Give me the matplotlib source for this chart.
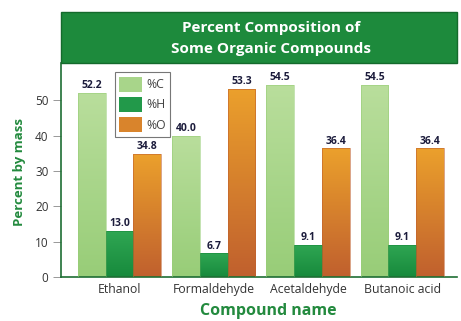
import matplotlib.pyplot as plt
import numpy as np
from matplotlib.colors import LinearSegmentedColormap
from matplotlib.patches import Rectangle, Patch

compounds = ["Ethanol", "Formaldehyde", "Acetaldehyde", "Butanoic acid"]
pct_c = [52.2, 40.0, 54.5, 54.5]
pct_h = [13.0, 6.7, 9.1, 9.1]
pct_o = [34.8, 53.3, 36.4, 36.4]
labels = ["%C", "%H", "%O"]

# (top colour, bottom colour) for each series
grads = [("#b9de9c", "#98cd78"), ("#2fa653", "#178a3c"), ("#eba02c", "#c0602e")]
solid = ["#a8d58a", "#22994a", "#d9842c"]

plt.rcParams["font.family"] = ["Open Sans", "DejaVu Sans"]

fig = plt.figure(figsize=(4.61, 3.21), dpi=100)
W, H = 461, 321
ax_l, ax_r, ax_t, ax_b = 61, 457, 63, 277
ax = fig.add_axes([ax_l / W, 1 - ax_b / H, (ax_r - ax_l) / W, (ax_b - ax_t) / H])

width = 0.295
x = np.arange(len(compounds))
series = [pct_c, pct_h, pct_o]

for k, vals in enumerate(series):
    offs = (k - 1) * width
    bars = ax.bar(x + offs, vals, width, facecolor="none",
                  edgecolor=grads[k][1], linewidth=0.4, zorder=3)
    cmap = LinearSegmentedColormap.from_list("g%d" % k, [grads[k][1], grads[k][0]])
    for b, v in zip(bars, vals):
        x0 = b.get_x()
        grad = np.linspace(0, 1, 100).reshape(-1, 1)
        im = ax.imshow(grad, cmap=cmap, origin="lower", aspect="auto",
                       extent=(x0, x0 + width, 0, v), zorder=2)
        im.set_clip_path(b)
        ax.text(x0 + width / 2, v + 0.5, f"{v:.1f}", ha="center", va="bottom",
                fontsize=7.5, fontweight="bold", color="#1c1c3c", zorder=4)

ax.set_xlim(-0.62, 3.58)
ax.set_ylim(0, 60.6)
ax.set_yticks([0, 10, 20, 30, 40, 50])
ax.set_xticks(x)
ax.set_xticklabels(compounds)
ax.tick_params(axis="y", direction="out", length=6, width=0.6, color="#888888",
               labelsize=8.5, labelcolor="#333333", pad=3)
ax.tick_params(axis="x", length=0, labelsize=8.8, labelcolor="#333333", pad=4)

for s in ["top", "right"]:
    ax.spines[s].set_visible(False)
for s in ["left", "bottom"]:
    ax.spines[s].set_color("#1e6e34")
    ax.spines[s].set_linewidth(1.2)

handles = [Patch(facecolor=solid[k], edgecolor="none") for k in range(3)]
leg = ax.legend(handles, labels, loc="upper left", bbox_to_anchor=(0.12, 0.985),
                fontsize=8.8, handlelength=1.9, handleheight=1.5, handletextpad=0.35,
                labelspacing=0.45, borderpad=0.35, fancybox=False,
                frameon=True, labelcolor="#444444")
leg.get_frame().set_edgecolor("#555555")
leg.get_frame().set_linewidth(0.8)
leg.set_zorder(5)

# title banner
tb_top = 12
banner = Rectangle((ax_l / W, 1 - ax_t / H), (ax_r - ax_l) / W, (ax_t - tb_top) / H,
                   transform=fig.transFigure, facecolor="#1d8a3c",
                   edgecolor="#146a2c", linewidth=1.0, zorder=1)
fig.patches.append(banner)
fig.text(271 / W, 1 - 28 / H, "Percent Composition of", ha="center", va="center",
         color="white", fontsize=11, fontweight="bold")
fig.text(271 / W, 1 - 49 / H, "Some Organic Compounds", ha="center", va="center",
         color="white", fontsize=11, fontweight="bold")

fig.text(268 / W, 1 - 311 / H, "Compound name", ha="center", va="center",
         color="#238a3e", fontsize=11.5, fontweight="bold")
fig.text(20 / W, 1 - 172 / H, "Percent by mass", ha="center", va="center",
         rotation=90, color="#238a3e", fontsize=9.5, fontweight="bold")

fig.savefig("out.png", dpi=100)
